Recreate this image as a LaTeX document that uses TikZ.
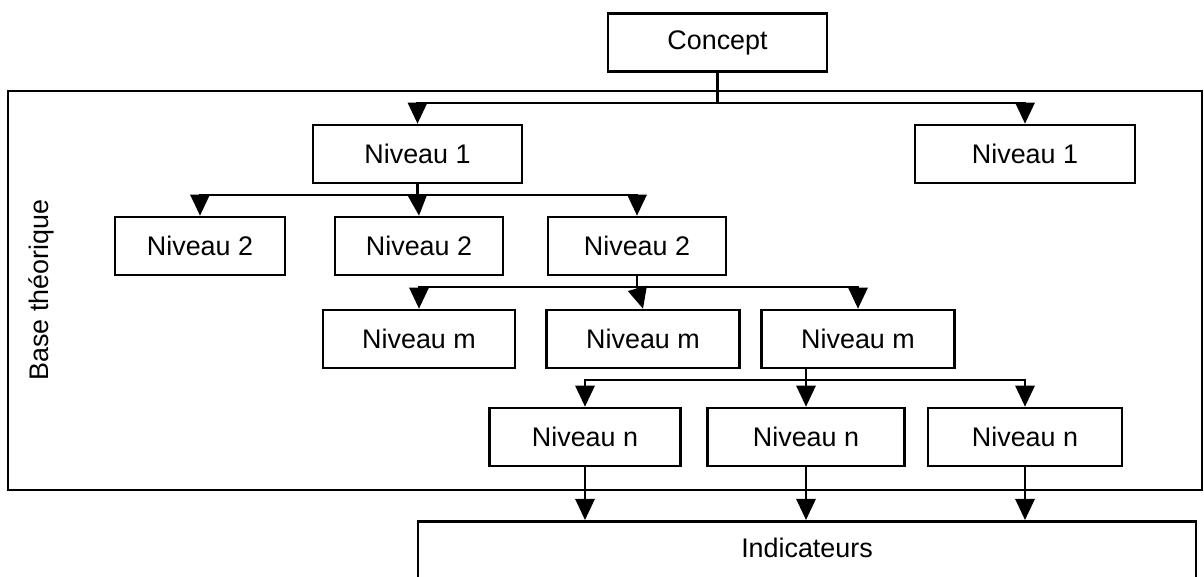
\documentclass[tikz,border=0pt]{standalone}
\usepackage{fontspec}
\setmainfont{Liberation Sans}
\usepackage{tikz}
\usetikzlibrary{arrows.meta}
\tikzstyle{node_box} = [rectangle, draw, line width=1.5pt, inner sep=0pt, minimum height=1.16cm, font=\fontsize{15.3}{18}\selectfont]
\tikzstyle{edge_arrow} = [line width=1.2pt, -{Triangle[length=12pt,width=11pt]}]
\tikzstyle{edge_normal} = [line width=1.2pt]

\begin{document}
\begin{tikzpicture}
\useasboundingbox (0,0) rectangle (24.08,-11.52);

\draw[line width=1.5pt] (0.16,-1.82) rectangle (24.04,-9.8);
\node (base) at (0.82,-5.8) [rotate=90, font=\fontsize{15.3}{18}\selectfont] {Base théorique};

\node (concept) at (14.35,-0.85) [node_box, minimum width=4.38cm] {Concept};

\node (niv1a) at (8.35,-3.08) [node_box, minimum width=4.18cm] {Niveau 1};
\node (niv1b) at (20.5,-3.08) [node_box, minimum width=4.4cm] {Niveau 1};

\node (niv2a) at (4.0,-4.92) [node_box, minimum width=3.4cm] {Niveau 2};
\node (niv2b) at (8.38,-4.92) [node_box, minimum width=3.36cm] {Niveau 2};
\node (niv2c) at (12.74,-4.92) [node_box, minimum width=3.56cm] {Niveau 2};

\node (nivma) at (8.38,-6.78) [node_box, minimum width=3.84cm] {Niveau m};
\node (nivmb) at (12.86,-6.78) [node_box, minimum width=3.86cm] {Niveau m};
\node (nivmc) at (17.16,-6.78) [node_box, minimum width=3.86cm] {Niveau m};

\node (nivna) at (11.7,-8.74) [node_box, minimum width=3.82cm] {Niveau n};
\node (nivnb) at (16.12,-8.74) [node_box, minimum width=3.94cm] {Niveau n};
\node (nivnc) at (20.5,-8.74) [node_box, minimum width=3.88cm] {Niveau n};

\node (ind) at (16.14,-10.4) [node_box, anchor=north, minimum width=15.56cm, minimum height=1.8cm] {};
\node (indtext) at (16.14,-10.96) [font=\fontsize{15.3}{18}\selectfont] {Indicateurs};

\coordinate (bus1) at (0,-2.06);
\coordinate (bus2) at (0,-3.9);
\coordinate (bus3) at (0,-5.74);
\coordinate (bus4) at (0,-7.6);

\draw[edge_arrow] (concept.south) -- (concept.south |- bus1) -| (niv1a.north);
\draw[edge_arrow] (concept.south |- bus1) -| (niv1b.north);

\draw[edge_arrow] (niv1a.south) -- (niv1a.south |- bus2) -| (niv2a.north);
\draw[edge_arrow] (niv1a.south |- bus2) -- (niv2b.north);
\draw[edge_arrow] (niv1a.south |- bus2) -| (niv2c.north);

\draw[edge_arrow] (niv2c.south) -- (niv2c.south |- bus3) -| (nivma.north);
\draw[edge_arrow] (niv2c.south |- bus3) -- (nivmb.north);
\draw[edge_arrow] (niv2c.south |- bus3) -| (nivmc.north);

\draw[edge_normal] (nivmc.south -| nivnb.north) -- (nivnb.north |- bus4);
\draw[edge_arrow] (nivnb.north |- bus4) -| (nivna.north);
\draw[edge_arrow] (nivnb.north |- bus4) -- (nivnb.north);
\draw[edge_arrow] (nivnb.north |- bus4) -| (nivnc.north);

\draw[edge_arrow] (nivna.south) -- (nivna.south |- ind.north);
\draw[edge_arrow] (nivnb.south) -- (nivnb.south |- ind.north);
\draw[edge_arrow] (nivnc.south) -- (nivnc.south |- ind.north);
\end{tikzpicture}
\end{document}
